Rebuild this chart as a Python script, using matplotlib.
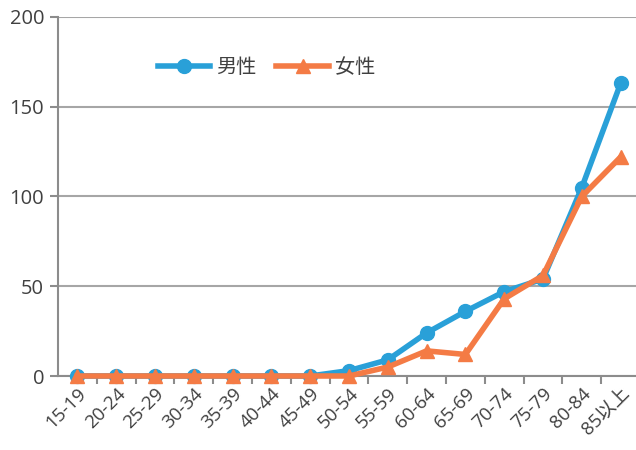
import matplotlib.pyplot as plt
import numpy as np

plt.rcParams['font.family'] = ['Open Sans', 'Noto Sans CJK JP', 'DejaVu Sans']

ages = ['15-19', '20-24', '25-29', '30-34', '35-39', '40-44', '45-49', '50-54',
        '55-59', '60-64', '65-69', '70-74', '75-79', '80-84', '85以上']
male = [0, 0, 0, 0, 0, 0, 0, 3, 9, 24, 36, 47, 54, 105, 163]
female = [0, 0, 0, 0, 0, 0, 0, 0, 5, 14, 12, 43, 56, 100, 122]

fig = plt.figure(figsize=(6.36, 4.5), dpi=100)
ax = fig.add_axes([58/636, 74/450, 582/636, 359/450])
x = np.arange(len(ages))

ax.plot(x, male, color='#29A0D8', lw=4, marker='o', ms=10, label='男性', clip_on=False, zorder=3)
ax.plot(x, female, color='#F47B45', lw=4, marker='^', ms=10, label='女性', clip_on=False, zorder=4)

ax.set_xlim(-0.5, len(ages) - 0.5)
ax.set_ylim(0, 200)
ax.set_yticks([0, 50, 100, 150, 200])
ax.yaxis.grid(True, color='#A6A6A6', lw=1.5)
ax.set_axisbelow(True)
for s in ['top', 'right']:
    ax.spines[s].set_visible(False)
ax.spines['left'].set_color('#8C8C8C')
ax.spines['bottom'].set_color('#8C8C8C')
ax.spines['left'].set_linewidth(1.5)
ax.spines['bottom'].set_linewidth(1.5)

ax.set_xticks(x)
ax.set_xticklabels(ages, rotation=45, ha='right', rotation_mode='anchor', fontsize=13.5, color='#404040')
ax.tick_params(axis='x', length=0, pad=6)
ax.set_xticks(x[:-1] + 0.5, minor=True)
ax.tick_params(axis='x', which='minor', length=6, color='#8C8C8C', width=1.5)
ax.tick_params(axis='y', length=6, color='#8C8C8C', width=1.5, labelsize=14.5, labelcolor='#404040', pad=4)

ax.legend(loc='upper left', bbox_to_anchor=(0.14, 0.935), ncol=2, frameon=False,
          fontsize=14.5, handlelength=2.6, columnspacing=1.0, handletextpad=0.3,
          labelcolor='#404040')

fig.savefig('out.png', dpi=100)
